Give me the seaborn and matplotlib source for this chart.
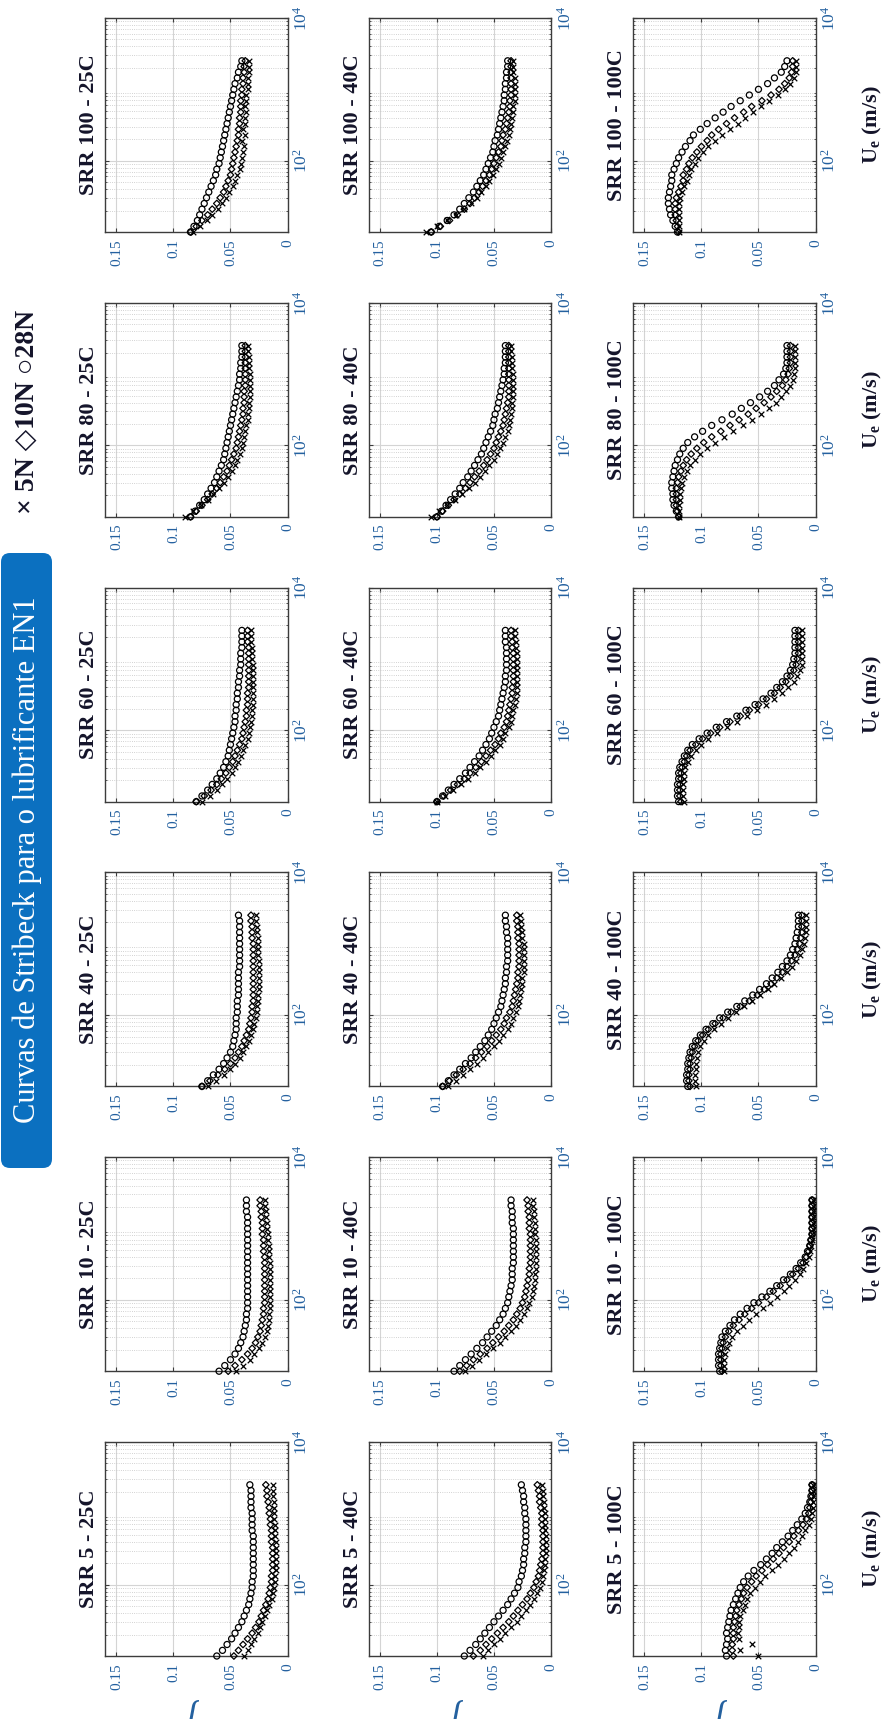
import matplotlib
matplotlib.use("Agg")
import matplotlib.pyplot as plt
import matplotlib.transforms as mtransforms
from matplotlib.patches import FancyBboxPatch
from matplotlib.ticker import FixedLocator, FixedFormatter, LogLocator, NullFormatter
import seaborn as sns

# ---------------------------------------------------------------- data
# entrainment speed steps of the Stribeck sweep
speeds = [10, 12.0, 14.5, 17.4, 20.9, 25.1, 30.2, 36.3, 43.7, 52.5, 63.1,
          75.9, 91.2, 110, 132, 158, 191, 229, 275, 331, 398, 479, 575,
          692, 832, 1000, 1202, 1445, 1738, 2089, 2512]

srr_levels = [100, 80, 60, 40, 10, 5]
temperatures = ["25C", "40C", "100C"]
loads = ["5N", "10N", "28N"]

mu_tick_values = [0, 0.05, 0.1, 0.15]
mu_tick_labels = ["0", "0.05", "0.1", "0.15"]
speed_tick_values = [1e2, 1e4]
speed_tick_labels = [r"$10^{2}$", r"$10^{4}$"]

# friction coefficient, SRR 5
mu_srr5_25c_5n = [.038, .035, .032, .029, .026, .024, .022, .020, .018, .016, .014, .013, .012, .011, .011, .010, .010, .010, .010, .010, .010, .011, .011, .011, .012, .012, .012, .012, .013, .013, .013]
mu_srr5_25c_10n = [.047, .043, .039, .035, .031, .028, .025, .023, .021, .019, .017, .016, .015, .014, .014, .013, .013, .013, .013, .013, .014, .014, .014, .015, .015, .016, .016, .017, .018, .018, .019]
mu_srr5_25c_28n = [.062, .057, .053, .049, .046, .043, .040, .038, .036, .034, .033, .032, .031, .031, .030, .030, .030, .030, .030, .030, .030, .030, .031, .031, .031, .031, .032, .032, .032, .032, .033]
mu_srr5_40c_5n = [.060, .055, .050, .045, .040, .035, .030, .026, .022, .018, .015, .012, .010, .008, .007, .006, .005, .005, .004, .004, .004, .004, .005, .005, .005, .005, .006, .006, .007, .007, .008]
mu_srr5_40c_10n = [.068, .062, .057, .052, .047, .042, .037, .033, .029, .025, .021, .018, .015, .013, .011, .010, .009, .008, .007, .007, .007, .007, .007, .008, .008, .008, .009, .010, .010, .011, .012]
mu_srr5_40c_28n = [.076, .071, .066, .062, .058, .054, .050, .046, .042, .038, .035, .032, .029, .028, .026, .025, .024, .024, .023, .023, .022, .022, .022, .022, .022, .023, .023, .024, .024, .025, .026]
mu_srr5_100c_5n = [.050, .066, .056, .067, .068, .067, .067, .066, .064, .062, .060, .057, .053, .049, .044, .038, .033, .028, .023, .019, .015, .012, .009, .006, .004, .003, .002, .002, .002, .002, .002]
mu_srr5_100c_10n = [.072, .073, .073, .072, .072, .072, .071, .070, .069, .067, .065, .063, .060, .056, .052, .047, .042, .037, .032, .028, .023, .019, .015, .011, .008, .006, .005, .004, .003, .003, .003]
mu_srr5_100c_28n = [.078, .079, .078, .077, .078, .077, .076, .075, .074, .072, .070, .068, .066, .063, .059, .054, .048, .043, .038, .034, .029, .024, .020, .016, .012, .009, .007, .005, .004, .003, .003]

# friction coefficient, SRR 10
mu_srr10_25c_5n = [.045, .039, .033, .029, .025, .022, .020, .018, .017, .016, .016, .015, .015, .015, .015, .015, .015, .015, .015, .015, .016, .016, .016, .017, .017, .018, .018, .019, .019, .020, .020]
mu_srr10_25c_10n = [.052, .046, .040, .035, .031, .028, .026, .024, .023, .022, .021, .021, .020, .020, .020, .020, .020, .020, .020, .020, .020, .021, .021, .021, .022, .022, .022, .023, .023, .024, .024]
mu_srr10_25c_28n = [.060, .055, .050, .046, .043, .041, .039, .038, .037, .036, .036, .035, .035, .035, .035, .035, .035, .035, .035, .035, .035, .035, .035, .035, .035, .035, .035, .035, .036, .036, .036]
mu_srr10_40c_5n = [.075, .069, .063, .057, .051, .045, .040, .035, .031, .027, .024, .021, .019, .017, .016, .015, .014, .014, .013, .013, .013, .013, .013, .013, .014, .014, .014, .015, .015, .016, .016]
mu_srr10_40c_10n = [.080, .074, .068, .062, .056, .051, .046, .041, .037, .033, .030, .027, .025, .023, .022, .021, .020, .019, .019, .018, .018, .018, .018, .018, .018, .019, .019, .019, .020, .020, .021]
mu_srr10_40c_28n = [.085, .080, .075, .070, .065, .060, .056, .052, .048, .045, .042, .040, .038, .037, .036, .035, .034, .034, .034, .033, .033, .033, .033, .033, .033, .033, .034, .034, .034, .035, .035]
mu_srr10_100c_5n = [.080, .080, .080, .079, .078, .076, .073, .069, .064, .058, .052, .046, .040, .034, .028, .023, .018, .014, .011, .008, .006, .005, .004, .003, .003, .002, .002, .002, .002, .002, .002]
mu_srr10_100c_10n = [.082, .083, .083, .083, .082, .081, .079, .076, .072, .067, .062, .056, .050, .043, .037, .031, .025, .020, .015, .011, .008, .006, .005, .004, .003, .003, .003, .003, .003, .003, .003]
mu_srr10_100c_28n = [.084, .085, .085, .085, .084, .083, .082, .079, .075, .071, .066, .060, .054, .047, .040, .034, .028, .022, .017, .013, .009, .007, .005, .004, .003, .003, .003, .003, .003, .003, .003]

# friction coefficient, SRR 40
mu_srr40_25c_5n = [.070, .063, .056, .050, .046, .042, .039, .036, .034, .032, .030, .029, .028, .027, .027, .026, .026, .025, .025, .025, .025, .025, .025, .026, .026, .026, .026, .027, .027, .028, .028]
mu_srr40_25c_10n = [.075, .068, .061, .055, .050, .046, .043, .040, .038, .036, .034, .033, .032, .031, .031, .030, .030, .030, .030, .030, .030, .030, .030, .030, .030, .030, .031, .031, .031, .032, .032]
mu_srr40_25c_28n = [.075, .070, .065, .060, .056, .053, .050, .048, .047, .046, .045, .045, .045, .044, .044, .044, .043, .043, .043, .043, .043, .042, .042, .042, .042, .042, .042, .042, .042, .042, .043]
mu_srr40_40c_5n = [.090, .083, .077, .071, .065, .060, .055, .050, .046, .042, .038, .035, .033, .031, .029, .028, .027, .026, .025, .025, .024, .024, .024, .024, .024, .024, .025, .025, .026, .026, .027]
mu_srr40_40c_10n = [.095, .089, .083, .077, .071, .066, .061, .056, .052, .048, .044, .041, .039, .036, .034, .033, .032, .031, .030, .029, .029, .028, .028, .028, .028, .028, .029, .029, .029, .030, .030]
mu_srr40_40c_28n = [.095, .090, .085, .080, .075, .070, .066, .062, .058, .055, .052, .050, .048, .046, .044, .043, .042, .041, .040, .040, .039, .039, .038, .038, .038, .038, .038, .039, .039, .040, .040]
mu_srr40_100c_5n = [.105, .106, .106, .105, .105, .104, .103, .101, .098, .094, .089, .083, .077, .070, .063, .056, .049, .042, .036, .030, .025, .021, .017, .014, .012, .010, .009, .008, .008, .008, .008]
mu_srr40_100c_10n = [.110, .111, .111, .110, .110, .109, .108, .106, .103, .099, .094, .088, .081, .074, .066, .058, .051, .045, .039, .034, .029, .025, .021, .018, .016, .014, .013, .012, .012, .012, .012]
mu_srr40_100c_28n = [.112, .113, .113, .112, .112, .111, .110, .108, .105, .101, .096, .090, .084, .077, .069, .062, .055, .049, .043, .038, .033, .029, .025, .022, .020, .018, .017, .016, .015, .015, .015]

# friction coefficient, SRR 60
mu_srr60_25c_5n = [.075, .068, .062, .057, .053, .049, .046, .043, .041, .039, .037, .035, .034, .033, .032, .031, .031, .030, .030, .030, .030, .030, .030, .030, .030, .031, .031, .031, .032, .032, .032]
mu_srr60_25c_10n = [.080, .073, .067, .062, .058, .054, .051, .048, .046, .044, .042, .040, .039, .038, .037, .036, .036, .035, .035, .035, .034, .034, .034, .034, .034, .034, .034, .034, .035, .035, .035]
mu_srr60_25c_28n = [.080, .075, .070, .066, .062, .059, .056, .054, .052, .051, .050, .049, .048, .047, .046, .046, .045, .045, .044, .044, .043, .043, .042, .042, .041, .041, .041, .040, .040, .040, .040]
mu_srr60_40c_5n = [.100, .093, .086, .079, .073, .067, .062, .057, .053, .049, .045, .042, .040, .037, .035, .034, .033, .032, .031, .030, .030, .030, .030, .030, .030, .030, .030, .031, .031, .032, .032]
mu_srr60_40c_10n = [.100, .094, .088, .082, .076, .071, .066, .061, .057, .053, .049, .046, .044, .041, .039, .038, .037, .036, .035, .034, .034, .033, .033, .033, .033, .033, .033, .034, .034, .035, .035]
mu_srr60_40c_28n = [.100, .095, .090, .085, .080, .075, .071, .067, .063, .060, .057, .054, .052, .050, .048, .046, .045, .044, .043, .042, .041, .040, .040, .039, .039, .039, .039, .039, .040, .040, .040]
mu_srr60_100c_5n = [.115, .116, .116, .116, .115, .115, .114, .112, .109, .105, .100, .094, .086, .078, .069, .060, .051, .043, .036, .029, .024, .019, .016, .014, .012, .012, .012, .012, .012, .012, .012]
mu_srr60_100c_10n = [.118, .119, .119, .119, .118, .118, .117, .115, .113, .110, .105, .099, .092, .084, .075, .066, .058, .050, .043, .036, .031, .026, .022, .019, .017, .016, .015, .015, .015, .015, .015]
mu_srr60_100c_28n = [.120, .121, .121, .121, .120, .120, .119, .117, .115, .112, .108, .102, .095, .087, .078, .069, .061, .053, .046, .039, .034, .029, .025, .022, .020, .019, .018, .018, .018, .018, .018]

# friction coefficient, SRR 80
mu_srr80_25c_5n = [.090, .083, .076, .070, .065, .060, .056, .052, .049, .046, .044, .042, .040, .039, .038, .037, .036, .035, .035, .034, .034, .033, .033, .033, .033, .033, .034, .034, .034, .035, .035]
mu_srr80_25c_10n = [.085, .080, .075, .070, .066, .062, .059, .056, .053, .051, .049, .047, .045, .044, .043, .042, .041, .040, .039, .039, .038, .038, .038, .037, .037, .037, .037, .037, .037, .037, .037]
mu_srr80_25c_28n = [.085, .081, .077, .073, .070, .067, .064, .062, .060, .058, .056, .055, .054, .053, .052, .051, .050, .049, .048, .047, .046, .045, .044, .043, .042, .042, .041, .041, .040, .040, .040]
mu_srr80_40c_5n = [.105, .098, .091, .084, .078, .072, .067, .062, .058, .054, .050, .047, .045, .042, .040, .038, .037, .036, .035, .034, .034, .033, .033, .033, .033, .033, .034, .034, .034, .035, .035]
mu_srr80_40c_10n = [.100, .095, .090, .085, .080, .075, .071, .067, .063, .059, .056, .053, .050, .048, .046, .044, .042, .041, .040, .039, .038, .037, .037, .037, .037, .037, .037, .037, .037, .037, .037]
mu_srr80_40c_28n = [.100, .096, .092, .088, .084, .080, .077, .073, .070, .067, .064, .061, .059, .057, .055, .053, .051, .050, .049, .047, .046, .045, .044, .043, .042, .041, .041, .040, .040, .040, .040]
mu_srr80_100c_5n = [.120, .120, .120, .119, .119, .118, .117, .115, .113, .110, .106, .101, .095, .088, .080, .072, .064, .056, .048, .041, .035, .030, .026, .022, .020, .019, .018, .018, .018, .018, .018]
mu_srr80_100c_10n = [.120, .121, .122, .122, .122, .122, .121, .120, .118, .116, .113, .109, .104, .098, .091, .083, .075, .067, .059, .052, .045, .039, .034, .029, .026, .024, .023, .022, .022, .022, .022]
mu_srr80_100c_28n = [.120, .122, .124, .125, .125, .126, .126, .125, .124, .123, .121, .119, .116, .112, .106, .099, .091, .082, .073, .065, .057, .049, .042, .036, .032, .028, .026, .025, .025, .025, .025]

# friction coefficient, SRR 100
mu_srr100_25c_5n = [.083, .077, .071, .066, .061, .057, .054, .051, .048, .046, .044, .042, .041, .040, .039, .038, .040, .037, .039, .037, .037, .036, .037, .036, .036, .035, .035, .035, .034, .034, .034]
mu_srr100_25c_10n = [.085, .080, .075, .070, .066, .062, .059, .056, .054, .052, .050, .049, .048, .047, .046, .045, .044, .043, .043, .042, .042, .041, .041, .041, .040, .040, .039, .039, .038, .038, .037]
mu_srr100_25c_28n = [.085, .082, .079, .077, .075, .073, .071, .069, .067, .065, .063, .062, .060, .059, .058, .057, .056, .055, .054, .053, .052, .051, .050, .049, .048, .047, .046, .044, .043, .041, .040]
mu_srr100_40c_5n = [.110, .100, .091, .083, .076, .070, .065, .061, .057, .054, .051, .048, .046, .044, .042, .040, .039, .037, .036, .035, .034, .033, .033, .032, .032, .032, .032, .032, .033, .033, .033]
mu_srr100_40c_10n = [.105, .097, .089, .082, .076, .071, .067, .063, .060, .057, .054, .052, .050, .048, .046, .044, .043, .042, .040, .039, .038, .037, .036, .036, .035, .035, .035, .035, .035, .035, .035]
mu_srr100_40c_28n = [.105, .098, .091, .085, .080, .076, .072, .068, .065, .062, .059, .057, .055, .053, .051, .050, .049, .047, .046, .045, .044, .043, .042, .041, .041, .040, .040, .039, .039, .038, .038]
mu_srr100_100c_5n = [.120, .120, .120, .120, .120, .120, .119, .117, .115, .113, .111, .109, .106, .103, .099, .094, .088, .082, .075, .068, .062, .055, .048, .041, .033, .027, .022, .019, .017, .017, .017]
mu_srr100_100c_10n = [.120, .121, .122, .123, .123, .123, .122, .120, .118, .116, .116, .113, .111, .108, .104, .100, .095, .091, .085, .078, .071, .063, .056, .047, .039, .032, .027, .023, .021, .020, .020]
mu_srr100_100c_28n = [.121, .123, .125, .127, .128, .129, .129, .128, .127, .126, .126, .124, .122, .120, .117, .114, .110, .107, .101, .095, .088, .081, .074, .066, .058, .050, .042, .036, .030, .027, .025]

curves = {
    (5, "25C"): (mu_srr5_25c_5n, mu_srr5_25c_10n, mu_srr5_25c_28n),
    (5, "40C"): (mu_srr5_40c_5n, mu_srr5_40c_10n, mu_srr5_40c_28n),
    (5, "100C"): (mu_srr5_100c_5n, mu_srr5_100c_10n, mu_srr5_100c_28n),
    (10, "25C"): (mu_srr10_25c_5n, mu_srr10_25c_10n, mu_srr10_25c_28n),
    (10, "40C"): (mu_srr10_40c_5n, mu_srr10_40c_10n, mu_srr10_40c_28n),
    (10, "100C"): (mu_srr10_100c_5n, mu_srr10_100c_10n, mu_srr10_100c_28n),
    (40, "25C"): (mu_srr40_25c_5n, mu_srr40_25c_10n, mu_srr40_25c_28n),
    (40, "40C"): (mu_srr40_40c_5n, mu_srr40_40c_10n, mu_srr40_40c_28n),
    (40, "100C"): (mu_srr40_100c_5n, mu_srr40_100c_10n, mu_srr40_100c_28n),
    (60, "25C"): (mu_srr60_25c_5n, mu_srr60_25c_10n, mu_srr60_25c_28n),
    (60, "40C"): (mu_srr60_40c_5n, mu_srr60_40c_10n, mu_srr60_40c_28n),
    (60, "100C"): (mu_srr60_100c_5n, mu_srr60_100c_10n, mu_srr60_100c_28n),
    (80, "25C"): (mu_srr80_25c_5n, mu_srr80_25c_10n, mu_srr80_25c_28n),
    (80, "40C"): (mu_srr80_40c_5n, mu_srr80_40c_10n, mu_srr80_40c_28n),
    (80, "100C"): (mu_srr80_100c_5n, mu_srr80_100c_10n, mu_srr80_100c_28n),
    (100, "25C"): (mu_srr100_25c_5n, mu_srr100_25c_10n, mu_srr100_25c_28n),
    (100, "40C"): (mu_srr100_40c_5n, mu_srr100_40c_10n, mu_srr100_40c_28n),
    (100, "100C"): (mu_srr100_100c_5n, mu_srr100_100c_10n, mu_srr100_100c_28n),
}

# ---------------------------------------------------------------- style
sns.set_style("white")
plt.rcParams["font.family"] = ["Liberation Serif", "DejaVu Sans"]
plt.rcParams["mathtext.fontset"] = "custom"
plt.rcParams["mathtext.rm"] = "Liberation Serif"
plt.rcParams["mathtext.it"] = "Liberation Serif:italic"
plt.rcParams["mathtext.bf"] = "Liberation Serif:bold"

TICK_COLOR = "#23609f"
TITLE_COLOR = "#14142a"
FRAME_COLOR = "#3c3c3c"
BANNER_COLOR = "#0b70c0"

W, H = 892, 1719
fig = plt.figure(figsize=(W / 100, H / 100), dpi=100)

col_left = [105, 368.5, 633]
panel_w = 182.5
row_top0, row_step, panel_h = 18, 284.8, 214

marker_styles = {
    "5N": dict(marker="x", s=16, color="black", linewidth=0.9),
    "10N": dict(marker="D", s=11, color="black", facecolor="none", edgecolor="black", linewidth=0.9),
    "28N": dict(marker="o", s=19, color="black", facecolor="none", edgecolor="black", linewidth=0.9),
}

for r, srr in enumerate(srr_levels):
    top = row_top0 + r * row_step
    for c, temp in enumerate(temperatures):
        left = col_left[c]
        ax = fig.add_axes([left / W, 1 - (top + panel_h) / H, panel_w / W, panel_h / H])
        for load, mu in zip(loads, curves[(srr, temp)]):
            sns.scatterplot(x=mu, y=speeds, ax=ax, legend=False, zorder=3,
                            clip_on=False, **marker_styles[load])

        ax.set_xlim(0.16, 0)
        ax.set_yscale("log")
        ax.set_ylim(10, 1e4)
        ax.xaxis.set_major_locator(FixedLocator(mu_tick_values))
        ax.xaxis.set_major_formatter(FixedFormatter(mu_tick_labels))
        ax.yaxis.set_major_locator(FixedLocator(speed_tick_values))
        ax.yaxis.set_major_formatter(FixedFormatter(speed_tick_labels))
        ax.yaxis.set_minor_locator(LogLocator(base=10, subs=range(2, 10)))
        ax.yaxis.set_minor_formatter(NullFormatter())

        ax.grid(True, which="major", color="#d4d4d4", linewidth=0.8, linestyle="-")
        ax.grid(True, which="minor", axis="y", color="#c4c4c4", linewidth=0.6, linestyle=":")
        ax.set_axisbelow(True)

        ax.tick_params(axis="both", which="major", direction="in", length=3,
                       color=FRAME_COLOR, labelcolor=TICK_COLOR,
                       top=True, bottom=True, left=True, right=True,
                       labelleft=False, labelright=True)
        ax.tick_params(axis="x", which="major", pad=5, labelsize=11)
        ax.tick_params(axis="y", which="major", pad=4, labelsize=12.5)
        ax.tick_params(axis="y", which="minor", direction="in", length=1.5,
                       color=FRAME_COLOR, left=True, right=True)
        for lab in ax.get_xticklabels():
            lab.set_rotation(90)
        for lab in ax.get_yticklabels():
            lab.set_rotation(90)
            lab.set_verticalalignment("center")

        for sp in ax.spines.values():
            sp.set_visible(True)
            sp.set_color(FRAME_COLOR)
            sp.set_linewidth(1.0)
        ax.set_xlabel("")
        ax.set_ylabel("")

        ax.text(-0.085, 0.5, f"SRR {srr} - {temp}", transform=ax.transAxes,
                rotation=90, ha="center", va="center", fontsize=16,
                fontweight="bold", color=TITLE_COLOR)

        if temp == "100C":
            ax.text(1.31, 0.5, r"$\mathbf{U_{e}}$ (m/s)", transform=ax.transAxes,
                    rotation=90, ha="center", va="center", fontsize=16,
                    fontweight="bold", color=TITLE_COLOR)

        if srr == srr_levels[-1]:
            # friction axis symbol, partly running off the lower edge
            fig.text((left + panel_w / 2) / W, 1 - 1714 / H, "f", rotation=180,
                     ha="center", va="center", fontsize=24, fontstyle="italic",
                     family=["DejaVu Serif"], color=TICK_COLOR)

# banner title
banner = FancyBboxPatch((1, H - 1168), 51, 615,
                        boxstyle="round,pad=0,rounding_size=9",
                        transform=mtransforms.IdentityTransform(),
                        facecolor=BANNER_COLOR, edgecolor="none")
fig.add_artist(banner)
fig.text(27 / W, 1 - 860 / H, "Curvas de Stribeck para o lubrificante EN1",
         rotation=90, ha="center", va="center", fontsize=22, color="white")

# load legend, above the banner
fig.text(27 / W, 1 - 514 / H, "\u00d7 5N \u25c710N \u25cb28N", rotation=90,
         ha="center", va="bottom", fontsize=20, fontweight="bold",
         color=TITLE_COLOR, family=["Liberation Serif", "DejaVu Sans"])

fig.savefig("out.png", dpi=100)
